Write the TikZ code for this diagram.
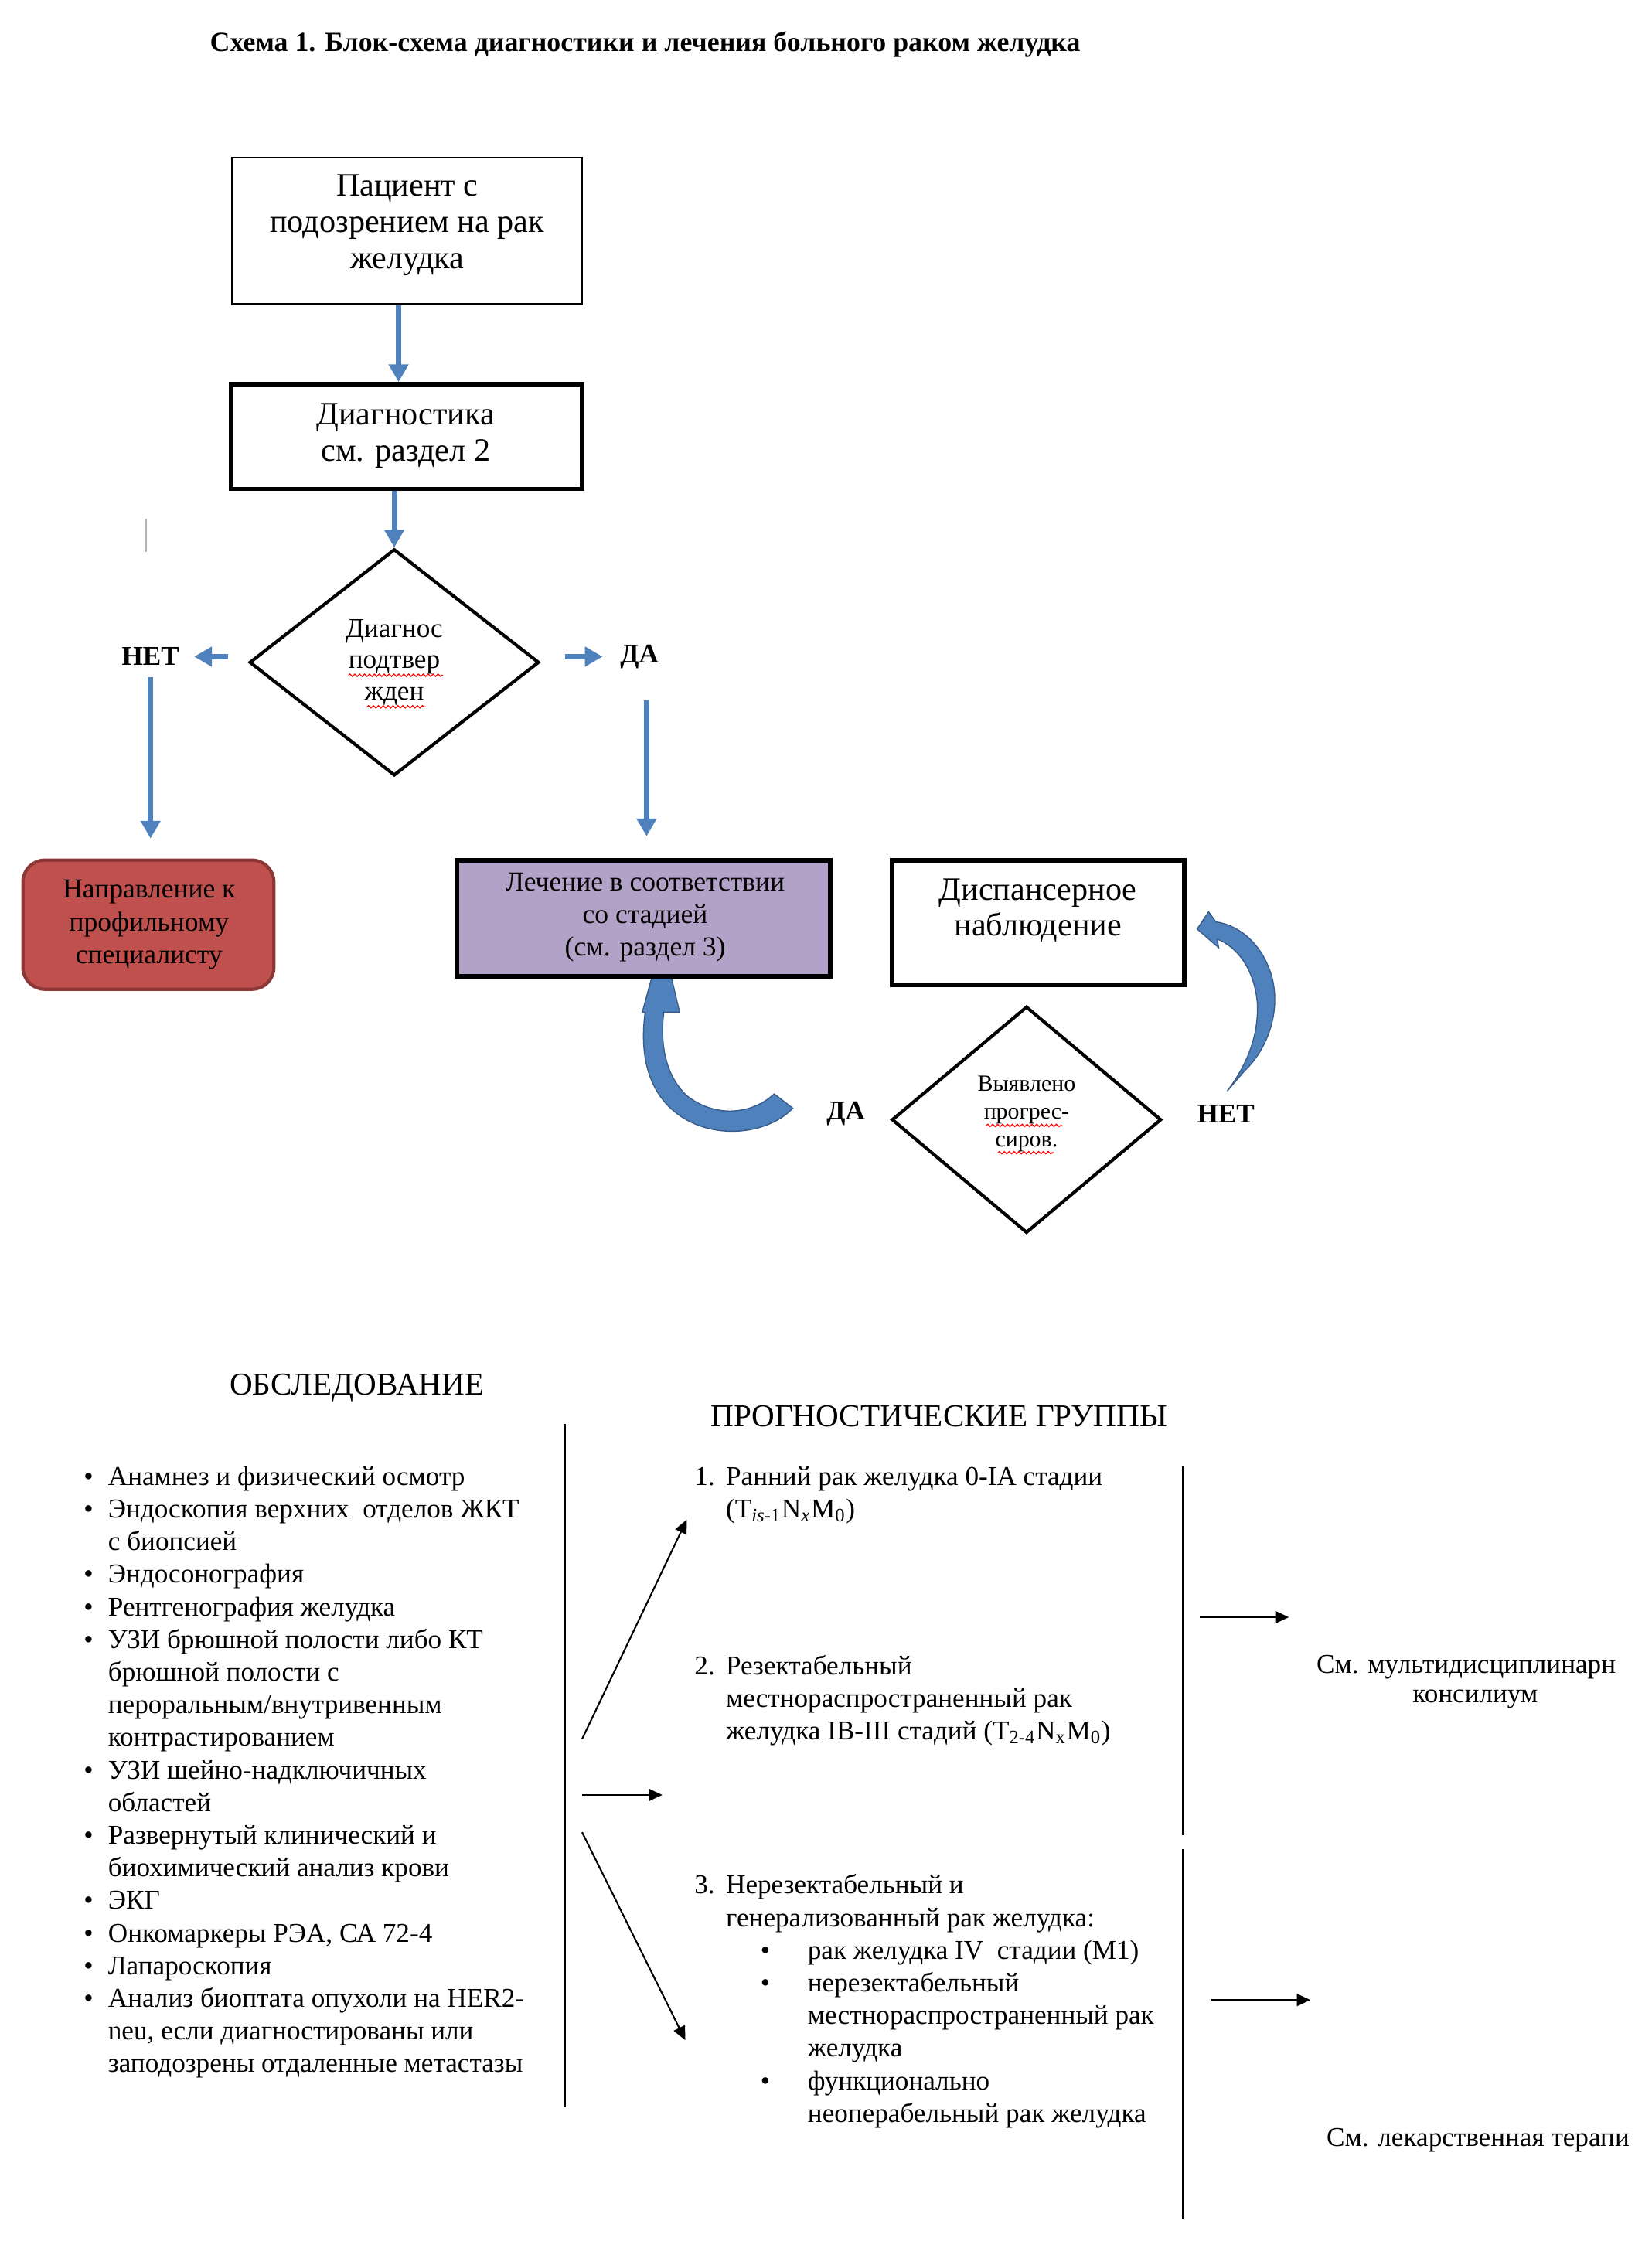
\documentclass[tikz,border=0pt]{standalone}
\usepackage{fontspec}
\setmainfont{Liberation Serif}
\usetikzlibrary{arrows.meta,shapes.geometric,fit,decorations.pathmorphing,calc}
\definecolor{arrowblue}{HTML}{4F81BD}
\definecolor{arrowbluedark}{HTML}{385D8A}
\definecolor{redfill}{HTML}{C0504D}
\definecolor{reddraw}{HTML}{8C3836}
\definecolor{purplefill}{HTML}{B3A2C7}
\newlength{\uu}\setlength{\uu}{0.018542cm}
\newcommand{\fs}[2]{\fontsize{#1pt}{#2pt}\selectfont}
\begin{document}
\begin{tikzpicture}[x=0.018542cm,y=-0.018542cm,
  frame/.style={draw, inner sep=0pt},
  thinframe/.style={frame, line width=0.8pt},
  thickframe/.style={frame, line width=1.6pt},
  txt/.style={align=center, inner sep=0pt},
  boxtext/.style={txt, font=\fs{12}{13.4}},
  yesno/.style={txt, font=\bfseries\fs{10}{12}},
  decision/.style={draw, diamond, line width=1.2pt, inner sep=0pt, align=center},
  barrow/.style={draw=arrowblue, line width=2pt, -{Triangle[length=6.5pt,width=7pt]}},
  karrow/.style={line width=0.6pt, -{Triangle[length=5pt,width=4.5pt]}},
  curvedarrow/.style={fill=arrowblue, draw=arrowbluedark, line width=0.4pt},
  squig/.style={draw=red, line width=0.35pt, decorate, decoration={snake, amplitude=0.45pt, segment length=1.8pt}},
  listtext/.style={anchor=base west, inner sep=0pt, font=\fs{10}{12}},
  rule/.style={line width=0.8pt},
]
\useasboundingbox (0,0) rectangle (1152,1568);

% title
\node[txt, anchor=base, font=\bfseries\fs{10.2}{12}] (title) at (450,36)
  {Схема 1. Блок-схема диагностики и лечения больного раком желудка};

% stray mark
\draw[gray!60, line width=0.5pt] (102,362) -- (102,385);

% curved arrows (drawn first, boxes cover them)
\path[curvedarrow] (540,763) -- (553,773)
  .. controls (535,792) and (495,796) .. (470,775)
  .. controls (452,760) and (446,735) .. (450,706)
  -- (448,706) -- (462,655) -- (474,706) -- (463,706)
  .. controls (460,730) and (465,752) .. (480,765)
  .. controls (500,780) and (525,777) .. (540,763) -- cycle;
\path[curvedarrow] (856,761) -- (868,747)
  .. controls (886,730) and (895,700) .. (885,675)
  .. controls (877,655) and (862,645) .. (848,643)
  -- (843,636) -- (835,648) -- (850,661) -- (849,655)
  .. controls (862,660) and (875,675) .. (877,700)
  .. controls (878,725) and (868,745) .. (856,761) -- cycle;

% top flow
\node[thinframe, fit={(162,110)(406,212)}] (b1) {};
\node[boxtext] (b1t) at (284,157) {Пациент с\\подозрением на рак\\желудка};

\node[thickframe, fit={(161,268)(406,341)}] (b2) {};
\node[boxtext] (b2t) at (283,304) {Диагностика\\см. раздел 2};

\node[decision, minimum width=202*\uu, minimum height=158*\uu, font=\fs{10}{11.6}] (d1) at (275,462)
  {Диагнос\\подтвер\\жден};
\draw[squig] (243,471) -- (309,471);
\draw[squig] (256,493) -- (297,493);

\node[yesno] (no1) at (105,458) {НЕТ};
\node[yesno] (yes1) at (446,458) {ДА};

\coordinate (axis1) at (278,0);
\draw[barrow] (b1.south -| axis1) -- (b2.north -| axis1);
\draw[barrow] (b2.south -| d1.north) -- (d1.north);
\draw[barrow, shorten <=7.4pt, shorten >=5.3pt] (d1.west |- no1.east) -- (no1.east);
\draw[barrow, shorten <=9pt, shorten >=6.3pt] (d1.east |- yes1.west) -- (yes1.west);

\node[frame, draw=reddraw, fill=redfill, line width=1.2pt, rounded corners=8pt, fit={(16,600)(191,690)}] (red) {};
\node[txt, font=\fs{10.1}{12}] (redt) at (104,645) {Направление к\\профильному\\специалисту};

\node[thickframe, fill=purplefill, fit={(319,600)(579,681)}] (pur) {};
\node[txt, font=\fs{10.1}{11.9}] (purt) at (450,640) {Лечение в соответствии\\со стадией\\(см. раздел 3)};

\node[thickframe, fit={(622,600)(826,687)}] (disp) {};
\node[txt, font=\fs{12}{13.2}] (dispt) at (724,635) {Диспансерное\\наблюдение};

\draw[barrow, shorten <=4pt, shorten >=7.4pt] (no1.south) -- (no1.south |- red.north);
\coordinate (yesdown) at ([xshift=5*\uu]yes1.south);
\draw[barrow, shorten <=11.6pt, shorten >=8pt] (yesdown) -- (yesdown |- pur.north);

\node[decision, minimum width=188*\uu, minimum height=158*\uu] (d2) at (716,781) {};
\node[txt, font=\fs{8.5}{10.3}] (d2t) at (716,777) {Выявлено\\прогрес-\\сиров.};
\draw[squig] (688,785) -- (741,785);
\draw[squig] (696,804) -- (735,804);

\node[yesno] (yes2) at (590,777) {ДА};
\node[yesno] (no2) at (855,777) {НЕТ};

% lower part
\node[txt, font=\fs{11.7}{13}] (h1) at (249,968) {ОБСЛЕДОВАНИЕ};
\node[txt, font=\fs{11.7}{13}] (h2) at (655,988) {ПРОГНОСТИЧЕСКИЕ ГРУППЫ};

\draw[rule] (394,993) -- (394,1470);
\draw[rule] (825,1023) -- (825,1280);
\draw[rule] (825,1290) -- (825,1548);

\node[listtext] (exam) at (58,1036) {%
\begin{tabular}[t]{@{}p{9pt}@{}l@{}}
\textbullet & Анамнез и физический осмотр\\
\textbullet & Эндоскопия верхних\ \ отделов ЖКТ\\
 & с биопсией\\
\textbullet & Эндосонография\\
\textbullet & Рентгенография желудка\\
\textbullet & УЗИ брюшной полости либо КТ\\
 & брюшной полости с\\
 & пероральным/внутривенным\\
 & контрастированием\\
\textbullet & УЗИ шейно-надключичных\\
 & областей\\
\textbullet & Развернутый клинический и\\
 & биохимический анализ крови\\
\textbullet & ЭКГ\\
\textbullet & Онкомаркеры РЭА, СА 72-4\\
\textbullet & Лапароскопия\\
\textbullet & Анализ биоптата опухоли на HER2-\\
 & neu, если диагностированы или\\
 & заподозрены отдаленные метастазы
\end{tabular}};

\node[listtext] (g1) at (484,1036) {%
\begin{tabular}[t]{@{}p{11.6pt}@{}l@{}}
1. & Ранний рак желудка 0-IA стадии\\
 & (T\textsubscript{\textit{is}-1}N\textsubscript{\textit{x}}M\textsubscript{0})
\end{tabular}};

\node[listtext] (g2) at (484,1168) {%
\begin{tabular}[t]{@{}p{11.6pt}@{}l@{}}
2. & Резектабельный\\
 & местнораспространенный рак\\
 & желудка IB-III стадий (T\textsubscript{2-4}N\textsubscript{x}M\textsubscript{0})
\end{tabular}};

\node[listtext] (g3) at (484,1321) {%
\begin{tabular}[t]{@{}p{11.6pt}@{}p{12.7pt}@{}p{17.4pt}@{}l@{}}
3. & \multicolumn{3}{@{}l@{}}{Нерезектабельный и}\\
 & \multicolumn{3}{@{}l@{}}{генерализованный рак желудка:}\\
 & & \textbullet & рак желудка IV\ \ стадии (M1)\\
 & & \textbullet & нерезектабельный\\
 & & & местнораспространенный рак\\
 & & & желудка\\
 & & \textbullet & функционально\\
 & & & неоперабельный рак желудка
\end{tabular}};

\coordinate (s1) at (406,1213); \coordinate (e1) at (479,1060);
\coordinate (s2) at (406,1252); \coordinate (e2) at (462,1252);
\coordinate (s3) at (406,1278); \coordinate (e3) at (478,1423);
\draw[karrow] (s1) -- (e1);
\draw[karrow] (s2) -- (e2);
\draw[karrow] (s3) -- (e3);

\coordinate (s4) at (837,1128); \coordinate (e4) at (899,1128);
\coordinate (s5) at (845,1395); \coordinate (e5) at (914,1395);
\draw[karrow] (s4) -- (e4);
\draw[karrow] (s5) -- (e5);

\node[txt, font=\fs{10}{12}, anchor=west] (mdk1) at (918,1163) {См. мультидисциплинарн};
\node[txt, font=\fs{10}{12}] (mdk2) at (1029,1185) {консилиум};
\node[txt, font=\fs{10}{12}, anchor=west] (drug) at (925,1493) {См. лекарственная терапи};
\end{tikzpicture}
\end{document}
